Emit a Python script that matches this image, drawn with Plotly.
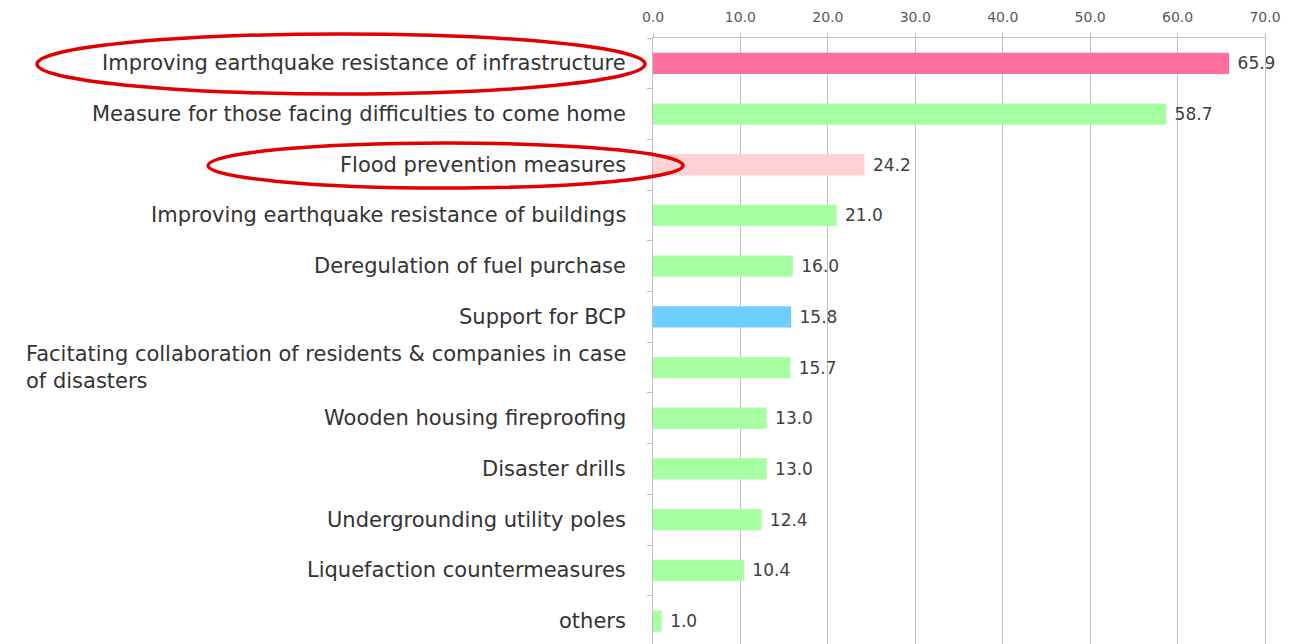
import plotly.graph_objects as go

categories = [
    "Improving earthquake resistance of infrastructure",
    "Measure for those facing difficulties to come home",
    "Flood prevention measures",
    "Improving earthquake resistance of buildings",
    "Deregulation of fuel purchase",
    "Support for BCP",
    "Facitating collaboration of residents & companies in case<br>of disasters",
    "Wooden housing fireproofing",
    "Disaster drills",
    "Undergrounding utility poles",
    "Liquefaction countermeasures",
    "others",
]
values = [65.9, 58.7, 24.2, 21.0, 16.0, 15.8, 15.7, 13.0, 13.0, 12.4, 10.4, 1.0]
colors = ["#FF6F9E", "#A6FFA0", "#FFD3D3", "#A6FFA0", "#A6FFA0", "#6ECFFF",
          "#A6FFA0", "#A6FFA0", "#A6FFA0", "#A6FFA0", "#A6FFA0", "#A6FFA0"]
x_ticks = [0, 10, 20, 30, 40, 50, 60, 70]

# page body has an 8px margin; size the figure so it fills the window
OFF = 8
W, H = 1291 - OFF, 644 - OFF
L, R, T, B = 653 - OFF, 26, 38 - OFF, 0
idx = list(range(len(categories)))
FONT = "DejaVu Sans"

fig = go.Figure()
fig.add_trace(go.Bar(
    y=idx, x=values, orientation="h", width=0.42,
    marker=dict(color=colors, line=dict(width=0)),
    texttemplate=" %{x:.1f}", textposition="outside",
    textfont=dict(family=FONT, size=17, color="#404040"),
    cliponaxis=False, hoverinfo="skip",
))

for i, c in enumerate(categories):
    fig.add_annotation(
        x=0, xref="paper", xshift=-25, y=i, yref="y",
        text=c, showarrow=False, xanchor="right", align="left",
        font=dict(family=FONT, size=21, color="#333333"),
    )

def px2x(p):
    return (p - OFF - L) / (W - L - R)

def py2y(p):
    return 1 - (p - OFF - T) / (H - T - B)

ellipses = [(37, 34, 645, 94), (208, 143, 683, 188)]
for x0, y0, x1, y1 in ellipses:
    fig.add_shape(type="circle", xref="paper", yref="paper",
                  x0=px2x(x0), x1=px2x(x1), y0=py2y(y1), y1=py2y(y0),
                  line=dict(color="#E00000", width=3.5), layer="above")

n = len(categories)
fig.update_layout(
    width=W, height=H, margin=dict(l=L, r=R, t=T, b=B, autoexpand=False),
    paper_bgcolor="white", plot_bgcolor="white", showlegend=False,
    xaxis=dict(side="top", range=[0, 70], tickvals=x_ticks,
               ticktext=[f"{v:.1f}" for v in x_ticks], automargin=False,
               showgrid=True, gridcolor="#BFBFBF", gridwidth=1,
               showline=True, linecolor="#BFBFBF", linewidth=1,
               ticks="outside", ticklen=4, tickcolor="#BFBFBF",
               ticklabelstandoff=5, zeroline=False,
               tickfont=dict(family=FONT, size=14, color="#595959")),
    yaxis=dict(range=[(H - T - B) / 50.7 - 0.5, -0.5], automargin=False,
               tickvals=[i - 0.5 for i in range(n + 1)], ticktext=[""] * (n + 1),
               showgrid=False, zeroline=False, mirror=True,
               showline=True, linecolor="#BFBFBF", linewidth=1,
               ticks="outside", ticklen=5, tickcolor="#BFBFBF"),
)

fig.write_html("out.html")
